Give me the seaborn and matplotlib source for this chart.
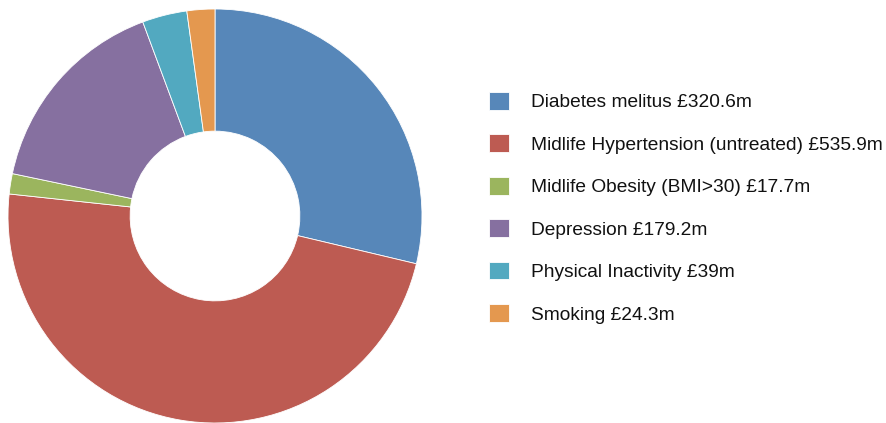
import matplotlib
matplotlib.use("Agg")
import matplotlib.pyplot as plt
import seaborn as sns

categories = ["Diabetes melitus", "Midlife Hypertension (untreated)", "Midlife Obesity (BMI>30)",
              "Depression", "Physical Inactivity", "Smoking"]
values = [320.6, 535.9, 17.7, 179.2, 39, 24.3]
value_labels = ["£320.6m", "£535.9m", "£17.7m", "£179.2m", "£39m", "£24.3m"]
colors = ["#5787B9", "#BD5B52", "#9BB55E", "#8670A0", "#52A9C0", "#E4984F"]

sns.set_style("white")
plt.rcParams["font.family"] = ["Liberation Sans", "DejaVu Sans"]

fig = plt.figure(figsize=(8.86, 4.23), dpi=100)
ax = fig.add_axes([8 / 886, 0 / 423, 414 / 886, 414 / 423])
palette = sns.color_palette(colors)
wedges, _ = ax.pie(values, colors=palette, startangle=90, counterclock=False,
                   wedgeprops=dict(width=0.59, edgecolor="white", linewidth=0.6))
ax.set_xlim(-1, 1)
ax.set_ylim(-1, 1)
ax.set_aspect("equal")
ax.axis("off")

labels = [f"{c} {v}" for c, v in zip(categories, value_labels)]
leg = fig.legend(wedges, labels, loc="upper left", bbox_to_anchor=(489 / 886, 1 - 92 / 423),
                 frameon=False, fontsize=13.8, handlelength=1.05, handleheight=1.05,
                 handletextpad=1.12, labelspacing=1.2, borderpad=0, borderaxespad=0)
for t in leg.get_texts():
    t.set_color("#111111")

fig.savefig("out.png", dpi=100)
